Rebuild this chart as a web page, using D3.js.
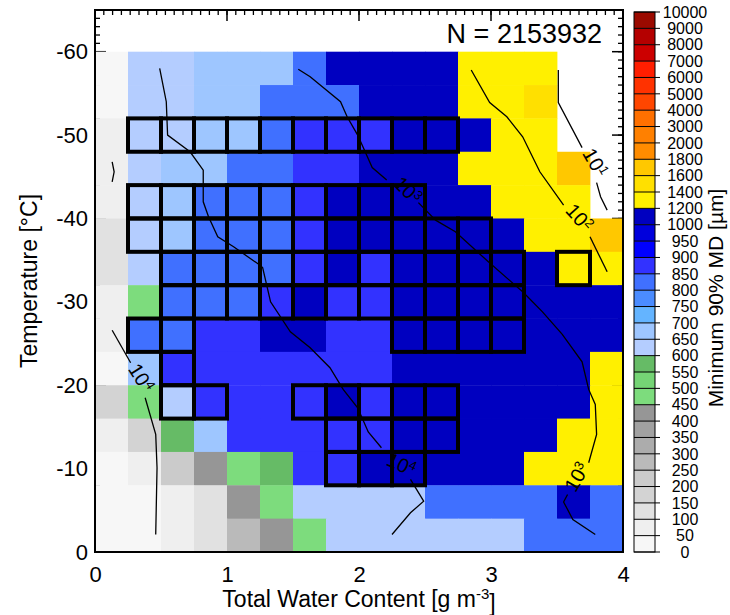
<!DOCTYPE html>
<html>
<head>
<meta charset="utf-8">
<script src="https://cdn.jsdelivr.net/npm/d3@7"></script>
<style>
  body { margin: 0; background: #fff; }
  svg text { font-family: "Liberation Sans", Arial, Helvetica, sans-serif; fill: #000; }
</style>
</head>
<body>
<svg id="chart" width="730" height="615"></svg>
<script>
// ---- data ----
// left edge of each TWC bin (g m-3), bins are 0.25 wide
const twcBins = [0, 0.25, 0.5, 0.75, 1, 1.25, 1.5, 1.75, 2, 2.25, 2.5, 2.75, 3, 3.25, 3.5, 3.75];
// colder edge of each temperature bin (°C), bins are 4 °C wide
const tempBins = [-60, -56, -52, -48, -44, -40, -36, -32, -28, -24, -20, -16, -12, -8, -4];

// minimum 90% MD (µm), one row per temperature bin, null = no data
const mdGrid = [
  [25, 625, 625, 675, 675, 675, 825, 1100, 1100, 1100, 1100, 1300, 1300, 1300, null, null],
  [25, 625, 625, 675, 675, 825, 825, 825, 1100, 1100, 1100, 1300, 1300, 1500, null, null],
  [75, 625, 625, 675, 675, 825, 875, 875, 875, 1100, 1100, 1100, 1300, 1300, null, null],
  [75, 625, 675, 675, 825, 825, 875, 875, 1100, 1100, 1100, 1300, 1300, 1300, 1700, null],
  [75, 625, 675, 825, 825, 825, 875, 1100, 1100, 1100, 1100, 1100, 1300, 1300, 1300, null],
  [125, 625, 675, 825, 825, 825, 875, 1100, 1100, 1100, 1100, 1100, 1100, 1300, 1300, 1700],
  [125, 625, 825, 825, 825, 825, 875, 1100, 875, 1100, 1100, 1100, 1100, 1100, 1300, 1300],
  [75, 475, 825, 825, 825, 875, 1100, 875, 875, 1100, 1100, 1100, 1100, 1100, 1100, 1100],
  [75, 825, 825, 875, 875, 1100, 1100, 875, 875, 1100, 1100, 1100, 1100, 1100, 1100, 1100],
  [25, 675, 875, 875, 875, 875, 875, 875, 875, 1100, 1100, 1100, 1100, 1100, 1100, 1300],
  [175, 475, 625, 875, 875, 875, 875, 1100, 875, 1100, 1100, 1100, 1100, 1100, 1100, 1300],
  [75, 175, 575, 675, 875, 875, 875, 875, 875, 1100, 1100, 1100, 1100, 1100, 1300, 1300],
  [25, 75, 225, 425, 475, 575, 875, 875, 1100, 1100, 1100, 1100, 1100, 1300, 1300, 1300],
  [25, 25, 75, 125, 425, 475, 625, 625, 625, 625, 825, 825, 825, 825, 1100, 825],
  [25, 25, 75, 125, 275, 425, 475, 625, 625, 625, 625, 625, 625, 825, 825, 825]
];

// outlined cells: [row, first column, last column]
const boxedRuns = [
  [2, 1, 10], [4, 1, 9], [5, 1, 11], [6, 2, 12], [6, 14, 14], [7, 2, 12],
  [8, 1, 2], [8, 9, 12], [9, 2, 2], [10, 2, 3], [10, 6, 10], [11, 7, 10], [12, 7, 9]
];

// colour levels of the bar
const levels = [0, 50, 100, 150, 200, 250, 300, 350, 400, 450, 500, 550, 600, 650, 700, 750, 800,
  850, 900, 950, 1000, 1200, 1400, 1600, 1800, 2000, 3000, 4000, 5000, 6000, 7000, 8000, 9000, 10000];
const levelColors = ["#f7f7f7", "#efefef", "#e1e1e1", "#d3d3d3", "#cbcbcb", "#bababa", "#acacac",
  "#a1a1a1", "#969696", "#7ddc7d", "#75d475", "#66bb66", "#b4cdff", "#9ec6ff", "#64b4ff", "#4b8cff",
  "#4070ff", "#3232ff", "#0000ff", "#0000dc", "#0000c0", "#fff000", "#ffe000", "#ffc800", "#ff8c00",
  "#ff8000", "#ff7000", "#ff4600", "#ff3200", "#ff1e00", "#cc0000", "#b40000", "#9b0a00"];

// number-of-points contours [twc, temp]
const contour1e1 = [
  [[3.51, -57.8], [3.51, -53.9], [3.69, -48.5]],
  [[3.80, -44.3], [3.83, -42.6], [3.88, -41.0]]
];
const contour1e2 = [
  [[2.85, -57.8], [2.99, -53.9], [3.12, -52.2], [3.24, -49.8], [3.37, -45.6], [3.55, -41.6]],
  [[3.75, -37.8], [3.88, -33.6]]
];
const contour1e3 = [
  [[1.54, -57.9], [1.63, -57.0], [1.86, -54.0], [1.91, -52.2], [1.99, -50.0], [2.10, -46.1], [2.21, -44.6]],
  [[2.45, -41.9], [2.58, -39.8], [2.73, -38.4], [2.98, -34.8], [3.24, -31.2], [3.39, -28.8], [3.54, -26.1],
   [3.69, -22.8], [3.74, -19.5], [3.79, -17.7], [3.80, -14.1], [3.74, -10.7]],
  [[3.58, -6.9], [3.55, -6.0], [3.62, -3.9], [3.79, -2.1]]
];
const contour1e4 = [
  [[0.49, -58.0], [0.54, -54.0], [0.55, -50.0], [0.72, -48.0], [0.82, -45.8], [0.82, -42.0], [0.86, -40.2],
   [0.93, -37.8], [1.05, -36.6], [1.24, -34.5], [1.27, -34.1], [1.33, -30.0], [1.48, -26.4], [1.63, -24.5],
   [1.78, -22.1], [1.88, -19.5], [1.99, -17.3], [2.07, -14.4], [2.17, -12.5]],
  [[2.39, -8.7], [2.49, -6.1], [2.39, -4.7], [2.25, -2.1]],
  [[0.13, -26.6], [0.27, -22.7]],
  [[0.38, -18.5], [0.46, -14.1], [0.47, -10.1], [0.46, -2.1]],
  [[0.13, -46.8], [0.145, -45.6], [0.13, -44.4]]
];
const labelExp = [1, 2, 3, 3, 4, 4];
const labelTwc = [3.79, 3.67, 2.37, 3.65, 2.32, 0.35];
const labelTemp = [-46.7, -40.1, -43.4, -9.0, -10.5, -20.9];
const labelAngle = [60, 48, 45, -60, 25, 58];

const xTicks = [0, 1, 2, 3, 4];
const yTicks = [0, -10, -20, -30, -40, -50, -60];
const nLabel = "N = 2153932";

// ---- drawing ----
const svg = d3.select('#chart');
const x = d3.scaleLinear().domain([0, 4]).range([95, 623]);
const y = d3.scaleLinear().domain([0, -65]).range([552, 10]);
const color = d3.scaleThreshold().domain(levels.slice(1, -1)).range(levelColors);
const cw = 0.25, ch = 4;

// inward ticks on all four sides (hidden under cells where there is data)
const ticks = svg.append('g').attr('stroke', '#000');
const xMinor = d3.range(0, 4.0001, 1 / 15);
const yMinor = d3.range(0, -65.001, -1);
[[10, 1], [552, -1]].forEach(([yy, dir]) => {
  xMinor.forEach(v => ticks.append('line').attr('x1', x(v)).attr('x2', x(v))
    .attr('y1', yy).attr('y2', yy + dir * 5).attr('stroke-width', 1.3));
  xTicks.forEach(v => ticks.append('line').attr('x1', x(v)).attr('x2', x(v))
    .attr('y1', yy).attr('y2', yy + dir * 11).attr('stroke-width', 1.5));
});
[[95, 1], [623, -1]].forEach(([xx, dir]) => {
  yMinor.forEach(v => ticks.append('line').attr('y1', y(v)).attr('y2', y(v))
    .attr('x1', xx).attr('x2', xx + dir * 5).attr('stroke-width', 1.3));
  yTicks.forEach(v => ticks.append('line').attr('y1', y(v)).attr('y2', y(v))
    .attr('x1', xx).attr('x2', xx + dir * 11).attr('stroke-width', 1.5));
});

// cells
const cells = [];
mdGrid.forEach((row, r) => row.forEach((v, c) => {
  if (v !== null) cells.push({ r, c, v });
}));
svg.append('g').selectAll('rect').data(cells).join('rect')
  .attr('x', d => x(twcBins[d.c]))
  .attr('y', d => y(tempBins[d.r]))
  .attr('width', d => x(twcBins[d.c] + cw) - x(twcBins[d.c]) + 0.4)
  .attr('height', d => y(tempBins[d.r] + ch) - y(tempBins[d.r]) + 0.4)
  .attr('fill', d => color(d.v));

// outlined cells
const boxes = [];
boxedRuns.forEach(([r, c0, c1]) => { for (let c = c0; c <= c1; c++) boxes.push({ r, c }); });
svg.append('g').selectAll('rect').data(boxes).join('rect')
  .attr('x', d => x(twcBins[d.c]))
  .attr('y', d => y(tempBins[d.r]))
  .attr('width', d => x(twcBins[d.c] + cw) - x(twcBins[d.c]))
  .attr('height', d => y(tempBins[d.r] + ch) - y(tempBins[d.r]))
  .attr('fill', 'none').attr('stroke', '#000').attr('stroke-width', 4);

// contours
const line = d3.line().x(d => x(d[0])).y(d => y(d[1]));
const cg = svg.append('g').attr('fill', 'none').attr('stroke', '#000').attr('stroke-width', 1.3);
[contour1e1, contour1e2, contour1e3, contour1e4].forEach(segs => {
  segs.forEach(s => cg.append('path').attr('d', line(s)));
});
labelExp.forEach((e, i) => {
  const t = svg.append('text')
    .attr('transform', `translate(${x(labelTwc[i])},${y(labelTemp[i])}) rotate(${labelAngle[i]})`)
    .attr('text-anchor', 'middle').attr('dy', '0.35em').attr('font-size', 20);
  t.append('tspan').text('10');
  t.append('tspan').attr('dy', '-0.5em').attr('font-size', 13).text(e);
});

// frame
svg.append('rect').attr('x', 95).attr('y', 10).attr('width', 528).attr('height', 542)
  .attr('fill', 'none').attr('stroke', '#000').attr('stroke-width', 2);

// tick labels (plain hyphen minus, as in the original)
const fmt = d => String(d);
svg.append('g').attr('transform', 'translate(0,552)')
  .call(d3.axisBottom(x).tickValues(xTicks).tickSize(0).tickPadding(14).tickFormat(fmt))
  .call(g => g.select('.domain').remove())
  .selectAll('text').attr('font-size', 22).attr('font-family', null);
svg.append('g').attr('transform', 'translate(95,0)')
  .call(d3.axisLeft(y).tickValues(yTicks).tickSize(0).tickPadding(7).tickFormat(fmt))
  .call(g => g.select('.domain').remove())
  .selectAll('text').attr('font-size', 22).attr('font-family', null);

// axis titles
const xt = svg.append('text').attr('x', 359).attr('y', 607).attr('text-anchor', 'middle').attr('font-size', 23);
xt.append('tspan').text('Total Water Content [g m');
xt.append('tspan').attr('dy', '-0.55em').attr('font-size', 15).text('-3');
xt.append('tspan').attr('dy', '0.55em').text(']');
svg.append('text').attr('transform', 'translate(37,281) rotate(-90)')
  .attr('text-anchor', 'middle').attr('font-size', 23).text('Temperature [°C]');

svg.append('text').attr('x', 602).attr('y', 43).attr('text-anchor', 'end')
  .attr('font-size', 27).text(nLabel);

// colour bar
const cb = d3.scaleLinear().domain([0, levels.length - 1]).range([552, 12]);
const cbx = 634, cbw = 21;
const bar = svg.append('g');
bar.selectAll('rect').data(levelColors).join('rect')
  .attr('x', cbx).attr('y', (d, i) => cb(i + 1)).attr('width', cbw)
  .attr('height', (d, i) => cb(i) - cb(i + 1)).attr('fill', d => d);
bar.selectAll('line').data(levels).join('line')
  .attr('x1', cbx).attr('x2', cbx + cbw + 5)
  .attr('y1', (d, i) => cb(i)).attr('y2', (d, i) => cb(i))
  .attr('stroke', '#000').attr('stroke-width', 1);
bar.append('rect').attr('x', cbx).attr('y', cb(levels.length - 1)).attr('width', cbw)
  .attr('height', cb(0) - cb(levels.length - 1)).attr('fill', 'none')
  .attr('stroke', '#000').attr('stroke-width', 1);
bar.selectAll('text').data(levels).join('text')
  .attr('x', 685).attr('y', (d, i) => cb(i)).attr('dy', '0.36em')
  .attr('text-anchor', 'middle').attr('font-size', 16).text(d => d);
svg.append('text').attr('transform', 'translate(723,298) rotate(-90)')
  .attr('text-anchor', 'middle').attr('font-size', 21).text('Minimum 90% MD [µm]');
</script>
</body>
</html>
